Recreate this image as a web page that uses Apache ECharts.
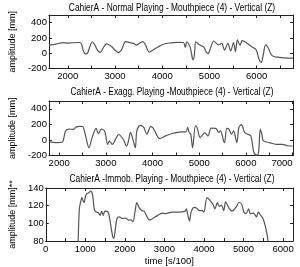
<!DOCTYPE html>
<html><head><meta charset="utf-8">
<script src="https://cdn.jsdelivr.net/npm/echarts@6/dist/echarts.min.js"></script>
<style>html,body{margin:0;padding:0;background:#fff}#c{width:300px;height:267px}</style>
</head><body><div id="c"></div>
<script>
// ---- data ----
const titles = [
  "CahierA - Normal Playing - Mouthpiece (4) - Vertical (Z)",
  "CahierA - Exagg. Playing -Mouthpiece (4) - Vertical (Z)",
  "CahierA -Immob. Playing - Mouthpiece (4) - Vertical (Z)"
];
const yNames = ["amplitude [mm]", "amplitude [mm]", "amplitude [mm]**"];
const xName3 = "time [s/100]";

const normalTime = [1600,1750,1900,2000,2100,2250,2290,2330,2370,2420,2470,2520,2570,2640,2690,2740,2820,2920,3000,3070,3120,3150,3200,3230,3300,3390,3450,3520,3590,3640,3700,3730,3800,3920,4000,4120,4320,4450,4490,4520,4560,4600,4640,4660,4690,4710,4790,4880,4930,4970,5020,5090,5190,5260,5320,5390,5450,5510,5550,5590,5630,5650,5690,5750,5890,5990,6050,6100,6140,6190,6250,6300,6350,6450,6580,6770];
const normalAmp  = [105,120,138,132,137,140,120,30,-8,5,90,150,110,30,12,60,122,90,40,8,30,60,140,152,140,128,105,130,152,115,30,15,40,85,110,130,143,140,75,150,120,60,-70,-85,40,150,110,80,20,-8,60,160,110,130,40,130,30,140,20,175,120,105,165,150,88,45,-80,-122,-20,108,65,-10,-40,-52,-62,-65];

const exaggTime = [1780,1933,2067,2134,2201,2302,2369,2440,2503,2570,2638,2705,2792,2839,2906,2973,3040,3074,3141,3208,3275,3376,3443,3476,3530,3577,3631,3664,3732,3812,3879,3960,4013,4081,4148,4282,4416,4617,4718,4752,4785,4819,4859,4919,4953,5020,5087,5121,5188,5255,5356,5423,5456,5523,5544,5591,5637,5691,5738,5805,5852,5906,5973,6040,6107,6174,6242,6275,6309,6342,6376,6510,6644,6779,6900,7000];
const exaggAmp  = [-22,-35,-25,110,139,135,168,175,172,40,-100,30,148,80,139,115,-57,-15,-57,10,70,5,-80,-35,96,10,-100,117,188,160,74,170,152,74,17,52,83,104,104,161,96,74,-100,180,161,30,74,90,52,152,148,96,117,-13,-35,148,140,74,117,-35,161,196,96,74,52,-165,-196,-143,139,74,-13,-35,-57,-57,-75,-78];

const immobTime = [808,848,888,912,945,969,1009,1050,1090,1130,1155,1187,1227,1252,1332,1373,1413,1453,1494,1575,1615,1655,1696,1720,1752,1801,1857,1938,2019,2100,2156,2205,2261,2301,2358,2423,2487,2544,2624,2705,2826,2947,3028,3190,3351,3513,3553,3593,3634,3674,3755,3819,3876,3957,3997,4078,4159,4223,4280,4336,4385,4441,4498,4546,4602,4643,4708,4805,4885,4950,5007,5063,5128,5168,5249,5330,5370,5435,5491,5531,5572,5612,5636];
const immobAmp  = [60,116,125.5,129,125.5,123.6,131,134,134.5,136.4,136.2,131,116,113.5,112,109,113.5,109,113.8,112.7,105.5,94.5,84.4,83,91,105.5,107.3,105.5,106,103.6,104,101.8,114.5,123.6,118,114.5,113.8,109,103.6,105.5,109,111.6,111,112.7,112.7,113.5,116.4,109,102.5,112.7,118,117,114.5,114.5,112.7,129,125.5,121.8,116.4,123.6,119.3,120.7,114.5,124.4,120,116.4,113.8,118,123.6,121.8,112.7,111,116.4,111,111.6,107.3,112.7,109,105.5,100,92.7,81.8,60];

const xTicks1 = [2000,2500,3000,3500,4000,4500,5000,5500,6000,6500];
const xLabels1 = [2000,3000,4000,5000,6000];
const xTicks2 = [2000,2500,3000,3500,4000,4500,5000,5500,6000,6500,7000];
const xLabels2 = [2000,3000,4000,5000,6000,7000];
const xTicks3 = [0,500,1000,1500,2000,2500,3000,3500,4000,4500,5000,5500,6000];
const xLabels3 = [0,1000,2000,3000,4000,5000,6000];
const yTicks12 = [-200,0,200,400];
const yTicks3 = [80,100,120,140];

const xRanges = [[1600,6770],[1780,7010],[0,6250]];
const yRanges = [[-200,500],[-200,500],[80,140]];

// ---- chart ----
const FONT = "'Liberation Sans', Arial, sans-serif";
const gridPos = [
  {left:35,right:7,top:15,height:53.5},
  {left:35,right:7,top:101,height:54.5},
  {left:35,right:7,top:188,height:56}
];
const xT = [xTicks1,xTicks2,xTicks3], xL = [xLabels1,xLabels2,xLabels3];
const yT = [yTicks12,yTicks12,yTicks3];
const lineCol = '#222';
const fmt = v => String(v);
const xAxes = [], yAxes = [], series = [], graphics = [];
const dataSets = [[normalTime,normalAmp],[exaggTime,exaggAmp],[immobTime,immobAmp]];
const titleY = [8, 92, 179];
for (let i=0;i<3;i++){
  const common = {gridIndex:i, type:'value', splitLine:{show:false},
    axisLine:{show:true,onZero:false,lineStyle:{color:lineCol,width:1}}};
  xAxes.push(Object.assign({}, common, {position:'bottom', min:xRanges[i][0], max:xRanges[i][1],
    axisTick:{show:true,inside:true,length:3,customValues:xT[i],lineStyle:{color:lineCol}},
    axisLabel:{show:true,customValues:xL[i],formatter:fmt,fontSize:9.5,fontFamily:FONT,color:'#000',margin:3,
      alignMaxLabel: i===1 ? 'right' : undefined},
    name: i===2 ? xName3 : '', nameLocation:'middle', nameGap:15,
    nameTextStyle:{fontSize:9.5,fontFamily:FONT,color:'#000'}}));
  xAxes.push(Object.assign({}, common, {position:'top', min:xRanges[i][0], max:xRanges[i][1],
    axisTick:{show:true,inside:true,length:3,customValues:xT[i],lineStyle:{color:lineCol}},
    axisLabel:{show:false}}));
  yAxes.push(Object.assign({}, common, {position:'left', min:yRanges[i][0], max:yRanges[i][1],
    axisTick:{show:true,inside:true,length:3,customValues:yT[i],lineStyle:{color:lineCol}},
    axisLabel:{show:true,customValues:yT[i],formatter:fmt,fontSize:9.5,fontFamily:FONT,color:'#000',margin:2},
    name:yNames[i], nameLocation:'middle', nameGap:24, nameRotate:90,
    nameTextStyle:{fontSize:9,fontFamily:FONT,color:'#000'}}));
  yAxes.push(Object.assign({}, common, {position:'right', min:yRanges[i][0], max:yRanges[i][1],
    axisTick:{show:true,inside:true,length:3,customValues:yT[i],lineStyle:{color:lineCol}},
    axisLabel:{show:false}}));
  const [xs, ys] = dataSets[i];
  series.push({type:'line', xAxisIndex:i*2, yAxisIndex:i*2, showSymbol:false, smooth:0.3,
    clip:true, lineStyle:{color:'#555',width:1.2}, data: xs.map((x,k)=>[x, ys[k]]), silent:true});
  graphics.push({type:'text', x:172, y:titleY[i], scaleX:0.8, style:{text:titles[i], fontSize:10.5, fontFamily:FONT,
    fill:'#000', align:'center', verticalAlign:'middle'}});
}
const chart = echarts.init(document.getElementById('c'), null, {renderer:'canvas'});
chart.setOption({
  animation:false, backgroundColor:'#fff',
  grid: gridPos, xAxis:xAxes, yAxis:yAxes, series, graphic:graphics
});
</script></body></html>
